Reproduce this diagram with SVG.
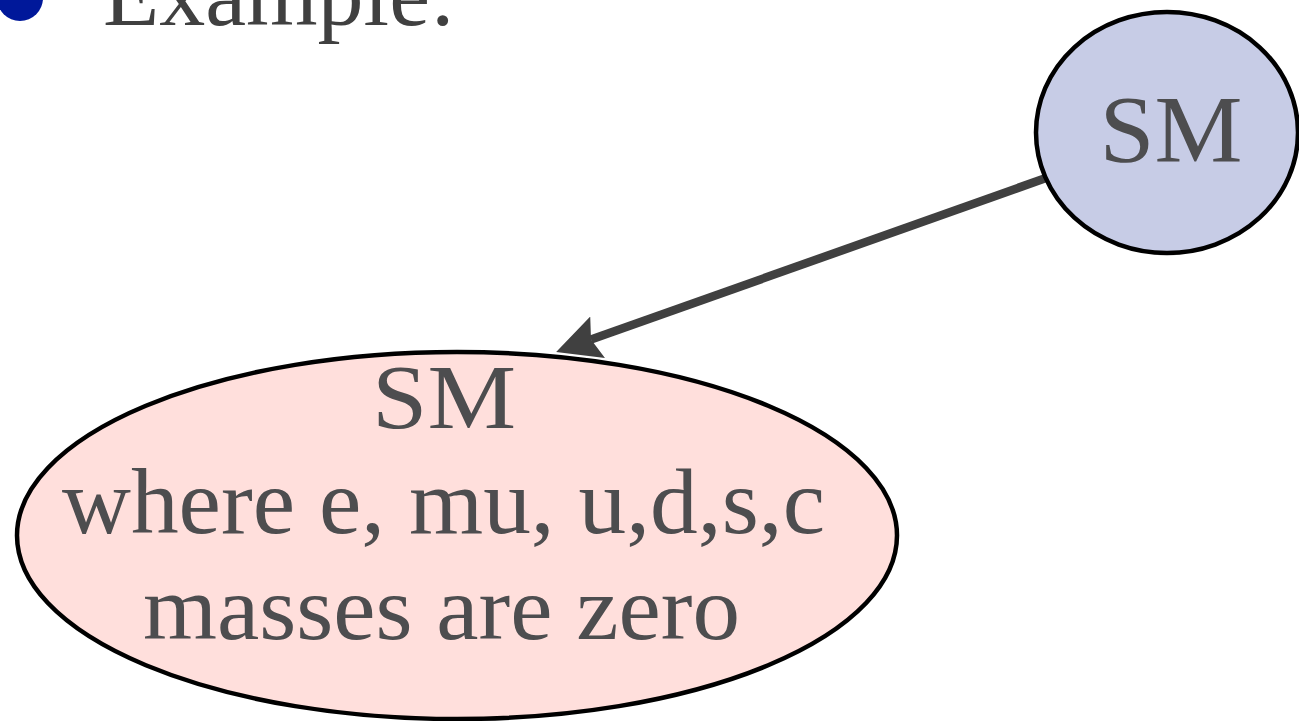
<svg xmlns="http://www.w3.org/2000/svg" width="1299" height="721" viewBox="0 0 1299 721">
<style>
.t{font-family:"Liberation Serif","DejaVu Serif",serif;fill:#4d4d4f;text-anchor:middle}
.node{stroke:#000;stroke-width:4.5}
</style>
<defs>
<marker id="ah" viewBox="0 0 44 44" refX="7" refY="22" markerWidth="44" markerHeight="44" markerUnits="userSpaceOnUse" orient="auto">
<path d="M0,0 L44,22 L0,44 L7,22 Z" fill="#404040"/>
</marker>
</defs>
<g id="header">
<circle cx="20" cy="-2" r="23" fill="#00189a"/>
<text x="103" y="25" font-family="Liberation Serif, serif" font-size="92" fill="#404040">Example:</text>
</g>
<g id="connectors">
<line x1="1060" y1="173" x2="591" y2="339.6" stroke="#404040" stroke-width="8.5" marker-end="url(#ah)"/>
</g>
<g id="node-sm">
<ellipse class="node" cx="1167" cy="132.5" rx="131" ry="120.5" fill="#c7cce6"/>
<text class="t" x="1171" y="162" font-size="96" textLength="143" lengthAdjust="spacingAndGlyphs">SM</text>
</g>
<g id="node-sm-massless">
<ellipse class="node" cx="457" cy="535.5" rx="440" ry="183.5" fill="#ffdfdc"/>
<text class="t" x="444" y="428" font-size="92" textLength="144" lengthAdjust="spacingAndGlyphs">SM</text>
<text class="t" x="443.5" y="533" font-size="94" textLength="763" lengthAdjust="spacingAndGlyphs">where e, mu, u,d,s,c</text>
<text class="t" x="441.5" y="639" font-size="92" textLength="597" lengthAdjust="spacingAndGlyphs">masses are zero</text>
</g>
</svg>
